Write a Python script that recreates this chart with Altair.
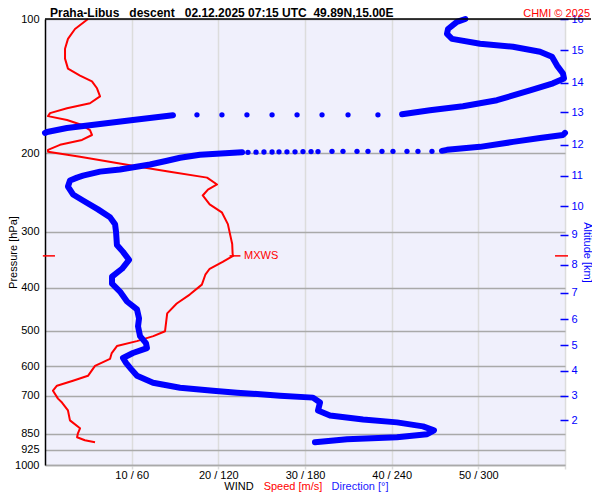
import json
import altair as alt
import pandas as pd

NB = "\u00a0"
TITLE = "Praha-Libus" + NB * 3 + "descent" + NB * 3 + "02.12.2025 07:15 UTC" + NB * 2 + "49.89N,15.00E"
COPYRIGHT = "CHMI \u00a9 2025"
WIND_PARTS = ["WIND", "Speed [m/s]", "Direction [\u00b0]"]
WIND_COLORS = ["#000000", "#ff0000", "#2020ff"]

p_levels = [100, 200, 300, 400, 500, 600, 700, 850, 925, 1000]
speed_ticks = [10, 20, 30, 40, 50, 60]
alt_km = [16, 15, 14, 13, 12, 11, 10, 9, 8, 7, 6, 5, 4, 3, 2]
alt_p = [100, 117.6, 138.8, 161.8, 191.2, 224.5, 263.0, 305.0, 355.7, 410.5, 471.4, 538.4, 615.0, 699.0, 794.3]

# wind speed profile (pressure hPa, speed m/s)
spd_p = [100, 105.3, 110.8, 116.6, 122.7, 129.2, 133.9, 138.0, 143.0, 149.1,
         154.5, 158.5, 162.6, 165.1, 168.5, 172.9, 177.4, 182.0, 186.7, 191.5,
         196.5, 198.5, 203.7, 213.3, 220.0, 226.8, 235.0, 241.2, 248.7, 260.4,
         271.3, 288.4, 300.5, 319.5, 336.2, 339.7,
         350.3, 363.1, 374.4, 394.1, 414.8, 434.4, 457.1, 501.2, 514.2, 527.5,
         541.2, 561.0, 578.4, 599.5, 631.0, 647.4, 664.2, 681.3, 709.8, 724.4,
         754.6, 794.3, 827.5, 849.0, 866.5, 879.9, 889.0]
spd_v = [4.96, 3.46, 2.65, 2.31, 2.31, 2.65, 4.04, 5.42, 6.0, 6.35,
         5.19, 2.54, 0.58, 0.35, 2.54, 4.27, 5.19, 5.42, 4.27, 1.73,
         0.35, 0.35, 4.04, 10.15, 14.4, 18.7, 19.85, 18.8, 18.2, 19.0,
         20.4, 21.1, 21.3, 21.6, 21.65, 21.7,
         20.5, 19.0, 18.5, 18.1, 16.7, 15.2, 14.1, 13.85, 12.5, 10.6,
         8.3, 7.7, 7.5, 5.77, 4.96, 3.23, 1.38, 0.92, 1.5, 1.96,
         2.65, 2.88, 4.04, 3.8, 3.7, 4.6, 5.77]

# wind direction profile, continuous segments (pressure hPa, direction deg)
segA_p = [100, 101.5, 105.3, 108.0, 110.8, 113.6, 115.4, 118.4, 121.5, 127.2, 132.5, 135.9, 139.4, 144.5, 152.1, 156.9, 160.2, 163.5]
segA_d = [291, 285.2, 279.0, 278.3, 281.8, 301.2, 324.0, 342.7, 351.0, 354.5, 358.6, 359.3, 351.7, 335.8, 312.9, 289.4, 266.5, 247.2]
segB_p = [164.3, 168.5, 172.0, 175.6, 179.2, 180.1]
segB_d = [88.6, 60.9, 38.1, 15.2, 1.4, 0]
segC_p = [180.1, 182.0, 184.8, 188.6, 193.5, 196.5, 197.5]
segC_d = [360, 358.6, 342.7, 324.0, 301.2, 278.3, 274.8]
segD_p = [199.0, 201.6, 204.7, 207.9, 211.9, 217.4, 219.9, 224.5, 226.8, 230.3, 237.5, 247.4, 255.2, 267.2, 278.3,
          288.4, 300.5, 321.1, 332.8, 346.7, 363.1, 378.3, 392.1, 408.5, 430.0, 448.0, 469.0, 488.6, 514.2,
          532.9, 546.8, 561.0, 575.4, 590.3, 608.8, 631.0, 654.1, 671.1, 681.3, 688.4, 699.0, 706.2, 724.4,
          754.6, 774.3, 790.3, 802.5, 819.1, 836.0, 853.3, 866.5, 875.4, 889.0]
segD_d = [136.4, 107.3, 93.5, 84.5, 72.7, 51.9, 38.1, 26.3, 22.2, 17.3, 15.9, 19.4, 26.3, 36.7, 45.0,
          48.5, 49.2, 49.8, 54.0, 58.2, 53.3, 46.4, 46.4, 51.9, 56.8, 63.7, 65.1, 64.4, 65.8,
          69.9, 70.6, 60.9, 54.0, 56.1, 59.5, 63.7, 74.8, 93.5, 116.3, 132.9, 162.7, 185.5, 190.4,
          189.0, 197.3, 220.2, 243.7, 261.7, 269.3, 264.5, 243.7, 209.1, 186.9]

# sparse direction points (rapid turning)
dots1_p = [164.0, 164.0, 164.0, 164.0, 164.0, 164.0, 164.0, 164.0]
dots1_d = [230.5, 209.8, 191.8, 174.5, 157.2, 139.8, 122.5, 105.2]
dots2_p = [198.0, 198.0, 198.0, 198.0, 198.0, 198.0, 198.0, 198.0, 198.0, 198.3,
           198.3, 198.3, 198.5, 198.5, 198.5, 198.7, 198.7, 198.9, 199.0]
dots2_d = [267.9, 258.2, 250.6, 240.9, 233.3, 223.6, 216.0, 206.3, 198.7, 189.0,
           184.2, 178.6, 173.1, 167.5, 162.0, 157.2, 151.6, 146.1, 140.5]

mxws_p = [339.7]
mxws_v = [21.7]

FONT = "Liberation Sans"
BLUE = "#0000ff"
RED = "#ff0000"

X = alt.Scale(domain=[0, 60], nice=False, zero=False)
Y = alt.Scale(type="log", domain=[100, 1000], reverse=True, nice=False)

speed_df = pd.DataFrame({"p": spd_p, "v": spd_v, "i": range(len(spd_p))})

rows = []
for sid, (ps, ds) in enumerate([(segA_p, segA_d), (segB_p, segB_d), (segC_p, segC_d), (segD_p, segD_d)]):
    for k, (p, d) in enumerate(zip(ps, ds)):
        rows.append({"seg": sid, "i": k, "p": p, "d": d})
dir_df = pd.DataFrame(rows)
dots_df = pd.DataFrame({"p": dots1_p + dots2_p, "d": dots1_d + dots2_d})
mx_df = pd.DataFrame({"p": mxws_p, "v": mxws_v})
alt_df = pd.DataFrame({"p": alt_p, "km": alt_km})

label_expr_right = "%s[indexof(%s, datum.value)]" % (json.dumps([str(k) for k in alt_km]), json.dumps(alt_p))

# base layer: speed line with left and bottom axes
speed_line = alt.Chart(speed_df).mark_line(color=RED, strokeWidth=2, strokeJoin="round").encode(
    x=alt.X("v:Q", scale=X, axis=alt.Axis(
        values=speed_ticks, labelExpr="datum.value == 60 ? '' : datum.value + ' / ' + datum.value * 6",
        grid=True, gridColor="#dcdcdc", gridWidth=1.5, tickColor="#dcdcdc", tickWidth=1.5, tickSize=4,
        domainColor="#a9a9a9", domainWidth=1.5, labelPadding=0, labelFontSize=11, labelColor="black",
        labelFont=FONT, title=None)),
    y=alt.Y("p:Q", scale=Y, axis=alt.Axis(
        values=p_levels, format="d", orient="left", grid=True, gridColor="#a9a9a9", gridWidth=1.5,
        domainColor="black", domainWidth=1.5, ticks=False, labelPadding=6, labelFontSize=11,
        labelColor="black", labelFont=FONT, title="Pressure [hPa]", titleFont=FONT, titleFontSize=11,
        titleFontWeight="normal", titleColor="black", titleX=-32, titleY=233, titleAngle=-90,
        titleBaseline="middle", titleAlign="center")),
    order=alt.Order("i:Q"),
)

# right altitude axis
alt_axis = alt.Chart(alt_df).mark_point(opacity=0).encode(
    y=alt.Y("p:Q", scale=Y, axis=alt.Axis(
        orient="right", values=alt_p, labelExpr=label_expr_right, domain=False, grid=False,
        tickColor=BLUE, tickSize=8, tickWidth=1.5, offset=-5, labelPadding=3, labelColor=BLUE,
        labelFontSize=11, labelFont=FONT, title="Altitude [km]", titleColor=BLUE, titleFont=FONT,
        titleFontSize=11, titleFontWeight="normal", titleAngle=90, titleX=26, titleY=233,
        titleBaseline="middle", titleAlign="center")),
)

dir_lines = alt.Chart(dir_df).transform_calculate(x="datum.d / 6").mark_line(
    color=BLUE, strokeWidth=6, strokeCap="round", strokeJoin="round").encode(
    x=alt.X("x:Q", scale=X, axis=None),
    y=alt.Y("p:Q", scale=Y, axis=None),
    detail="seg:N",
    order=alt.Order("i:Q"),
)

dir_dots = alt.Chart(dots_df).transform_calculate(x="datum.d / 6").mark_circle(
    color=BLUE, size=28, opacity=1).encode(
    x=alt.X("x:Q", scale=X, axis=None),
    y=alt.Y("p:Q", scale=Y, axis=None),
)

top_line = alt.Chart(mx_df).mark_rule(color="black", strokeWidth=1.5).encode(
    y=alt.Y(datum=100, scale=Y, axis=None),
    x=alt.value(0), x2=alt.value(546),
)

mx_base = alt.Chart(mx_df)
mx_tick = mx_base.transform_calculate(lo="datum.v - 0.4", hi="datum.v + 0.85").mark_rule(
    color=RED, strokeWidth=1.5).encode(
    x=alt.X("lo:Q", scale=X, axis=None), x2="hi:Q",
    y=alt.Y("p:Q", scale=Y, axis=None),
)
mx_text = mx_base.mark_text(color=RED, align="left", baseline="middle", dx=11, fontSize=11, font=FONT).encode(
    x=alt.X("v:Q", scale=X, axis=None),
    y=alt.Y("p:Q", scale=Y, axis=None),
    text=alt.value("MXWS"),
)
mx_left = mx_base.transform_calculate(lo="-0.25", hi="1.15").mark_rule(color=RED, strokeWidth=1.5).encode(
    x=alt.X("lo:Q", scale=X, axis=None), x2="hi:Q",
    y=alt.Y("p:Q", scale=Y, axis=None),
)
mx_right = mx_base.transform_calculate(lo="58.85", hi="60.35").mark_rule(color=RED, strokeWidth=1.5).encode(
    x=alt.X("lo:Q", scale=X, axis=None), x2="hi:Q",
    y=alt.Y("p:Q", scale=Y, axis=None),
)

title_text = alt.Chart(mx_df).mark_text(font=FONT, fontSize=12, fontWeight="bold", align="left",
                                        baseline="alphabetic", color="black").encode(
    x=alt.value(5), y=alt.value(-2), text=alt.value(TITLE))
copy_text = alt.Chart(mx_df).mark_text(font=FONT, fontSize=11, align="right", baseline="alphabetic",
                                       color=RED).encode(
    x=alt.value(545), y=alt.value(-2), text=alt.value(COPYRIGHT))

wind_x = [194, 248, 315]
wind_layers = [
    alt.Chart(mx_df).mark_text(font=FONT, fontSize=11, align="center", baseline="middle", color=c).encode(
        x=alt.value(xx), y=alt.value(468), text=alt.value(t))
    for t, c, xx in zip(WIND_PARTS, WIND_COLORS, wind_x)
]

chart = alt.layer(
    speed_line, alt_axis, dir_lines, dir_dots, top_line, mx_tick, mx_text, mx_left, mx_right,
    title_text, copy_text, *wind_layers
).resolve_scale(x="independent", y="independent").resolve_axis(x="independent", y="independent").properties(
    width=520, height=446,
    padding={"left": 37, "top": 11, "right": 27, "bottom": 27},
    autosize=alt.AutoSizeParams(type="none"),
    background="white",
).configure_view(fill="#f0f0fc", stroke="transparent")

chart.save("out.html", embed_options={"renderer": "svg", "actions": False})
